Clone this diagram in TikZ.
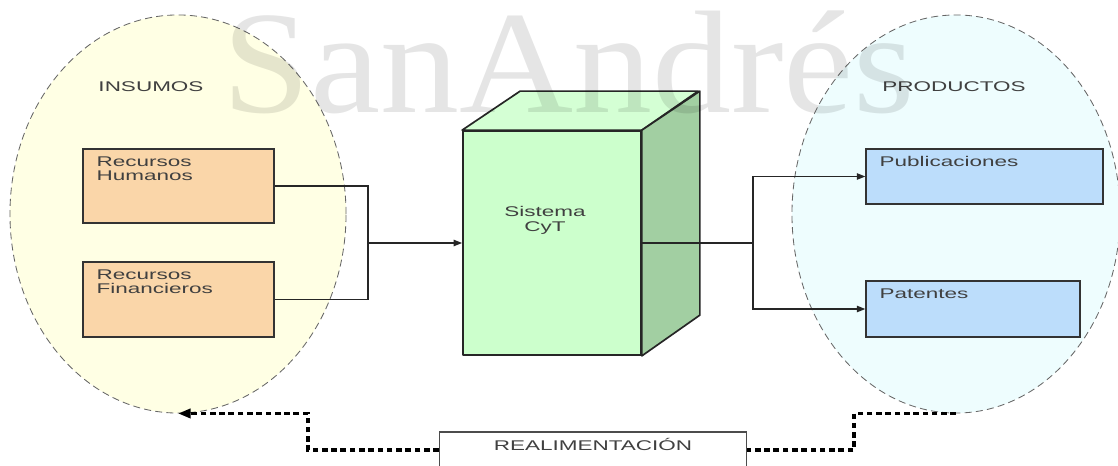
\documentclass[tikz,border=0pt]{standalone}
\usepackage{fontspec}
\setmainfont{Liberation Sans}[FakeStretch=1.6]
\newfontfamily\markfont{Liberation Serif}[FakeStretch=1.08]
\usetikzlibrary{shapes.geometric,arrows.meta,positioning}

\definecolor{insfill}{HTML}{FFFFE4}
\definecolor{prodfill}{HTML}{EEFDFE}
\definecolor{resfill}{HTML}{FAD6A9}
\definecolor{outfill}{HTML}{BCDDFB}
\definecolor{cubefront}{HTML}{CCFFCC}
\definecolor{cubetop}{HTML}{D4FFD4}
\definecolor{cubeside}{HTML}{A2CFA2}

\begin{document}
\begin{tikzpicture}[x=0.025cm, y=-0.025cm,
    font=\fontsize{10}{10.5}\selectfont, text=black!75,
    % General styles for the shapes
    group/.style={ellipse, draw=black!60, dashed, dash pattern=on 5pt off 3pt,
      line width=0.6pt, inner sep=0pt, minimum height=9.95cm},
    box/.style={draw=black!80, line width=0.9pt, inner sep=0pt},
    boxtxt/.style={anchor=north west, align=left, inner sep=0pt, xshift=10pt, yshift=-5.5pt},
    cubeline/.style={draw=black!85, line width=1.2pt, line join=round},
    % Connectors
    link/.style={draw=black!85, line width=1pt},
    flow/.style={link, -{Triangle[length=6pt,width=4.5pt]}},
    feedback/.style={draw=black, line width=2.8pt, dash pattern=on 4pt off 2.6pt}]

  \useasboundingbox (0,0) rectangle (1118,466);

  % Input and output groups
  \node[group, fill=insfill, minimum width=8.4cm] (ins) at (178,214) {};
  \node[group, fill=prodfill, minimum width=8.2cm] (outs) at (956,214) {};
  \node (insl) at (151,87) {INSUMOS};
  \node (outsl) at (954,87) {PRODUCTOS};

  % Resources
  \node[box, fill=resfill, minimum width=4.775cm, minimum height=1.85cm] (rh) at (178.5,186)
    {};
  \node[boxtxt] at (rh.north west) {Recursos\\Humanos};
  \node[box, fill=resfill, minimum width=4.775cm, minimum height=1.875cm] (rf) at (178.5,299.5)
    {};
  \node[boxtxt] at (rf.north west) {Recursos\\Financieros};

  % Products
  \node[box, fill=outfill, minimum width=5.925cm, minimum height=1.375cm] (pub) at (984.5,176.5)
    {};
  \node[boxtxt] at (pub.north west) {Publicaciones};
  \node[box, fill=outfill, minimum width=5.35cm, minimum height=1.4cm] (pat) at (973,309)
    {};
  \node[boxtxt] at (pat.north west) {Patentes};

  % The system as a box in perspective
  \node[cubeline, fill=cubefront, minimum width=4.45cm, minimum height=5.6cm, inner sep=0pt]
    (front) at (552,243) {};
  \draw[cubeline, fill=cubetop] (front.north west) -- ++(58,-39) -- ++(178,0)
    -- (front.north east) -- cycle;
  \draw[cubeline, fill=cubeside] (front.north east) -- ++(58,-39) -- ++(0,224)
    -- (front.south east) -- cycle;
  \node[align=center] (cyt) at (545,220) {Sistema\\CyT};

  % Inputs into the system
  \coordinate (join) at (368,243);
  \draw[link] (rh.east) -| (join);
  \draw[link] (rf.east) -| (join);
  \draw[flow] (join) -- (front.west);

  % System to products
  \coordinate (split) at (753,243);
  \draw[link] (front.east) -- (split);
  \draw[flow] (split) |- (pub.west);
  \draw[flow] (split) |- (pat.west);

  % Feedback loop
  \node[draw=black!70, line width=0.8pt, fill=white, minimum width=7.675cm, minimum height=0.9cm,
    text height=7.2pt, text depth=7pt] (fb) at (593,450) {REALIMENTACI\'ON};
  \coordinate (fbR) at (854,430);
  \coordinate (fbL) at (308,430);
  \draw[feedback] (outs.south) -| (fbR) |- (fb.east);
  \draw[feedback, -{Triangle[length=9pt,width=6.5pt]}] (fb.west) -| (fbL) |- (ins.south);

  % Watermark across the top
  \node[anchor=base west, inner sep=0pt, text=black, opacity=0.1,
    font=\markfont\fontsize{104}{104}\selectfont] (mark) at (222,112) {SanAndrés};
\end{tikzpicture}
\end{document}
